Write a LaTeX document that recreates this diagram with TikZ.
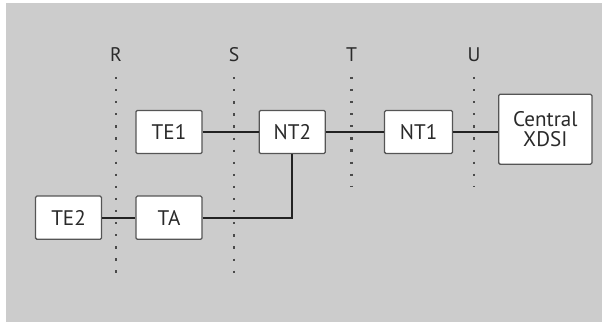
\documentclass[tikz,border=0pt]{standalone}
\usepackage{fontspec}
\setmainfont{PT Sans}
\usetikzlibrary{positioning}

\definecolor{panelgray}{HTML}{CCCCCC}
\definecolor{boxedge}{HTML}{555555}
\definecolor{wire}{HTML}{222222}
\definecolor{dotgray}{HTML}{4A4A4A}
\definecolor{labeltext}{HTML}{2A2A2A}

\begin{document}
\begin{tikzpicture}[
    x=0.025cm, y=-0.025cm,
    node distance=1cm,
    box/.style={rectangle, rounded corners=1pt, draw=boxedge, line width=0.9pt, fill=white, align=center,
        font=\fontsize{15}{16}\selectfont, text=labeltext, minimum width=1.65cm, minimum height=1.08cm, inner sep=0pt},
    refpoint/.style={font=\fontsize{14}{16}\selectfont, text=labeltext},
    refline/.style={dotgray, line width=1.6pt, dash pattern=on 1.6pt off 7pt},
    wireline/.style={wire, line width=1.3pt}
]

% Background panel
\useasboundingbox (0,0) rectangle (602,322);
\fill[panelgray] (6,3) rectangle (602,322);

% Reference points
\node (refR) [refpoint] at (116,55) {R};
\node (refS) [refpoint] at (234,55) {S};
\node (refT) [refpoint] at (351.5,55) {T};
\node (refU) [refpoint] at (474,55) {U};
\coordinate (endR) at (116,278);
\coordinate (endS) at (234,278);
\coordinate (endT) at (351.5,186);
\coordinate (endU) at (474,186);

\draw[refline] ([yshift=-0.25cm]refR.south) -- (endR);
\draw[refline] ([yshift=-0.25cm]refS.south) -- (endS);
\draw[refline] ([yshift=-0.25cm]refT.south) -- (endT);
\draw[refline] ([yshift=-0.25cm]refU.south) -- (endU);

% Nodes
\node (te1) [box] at (169,132) {TE1};
\node (nt2) [box, right=1.4cm of te1] {NT2};
\node (nt1) [box, right=1.45cm of nt2, minimum width=1.7cm] {NT1};
\node (xdsi) [box, right=1.12cm of nt1, yshift=0.07cm, minimum width=2.33cm, minimum height=1.75cm] {Central\\[-2pt]XDSI};
\node (ta) [box, below=1.03cm of te1] {TA};
\node (te2) [box, left=0.83cm of ta] {TE2};

% Connections
\draw[wireline] (te1) -- (nt2);
\draw[wireline] (nt2) -- (nt1);
\draw[wireline] (nt1.east) -- (nt1.east -| xdsi.west);
\draw[wireline] (te2) -- (ta);
\draw[wireline] (ta.east) -| (nt2.south);

\end{tikzpicture}
\end{document}
